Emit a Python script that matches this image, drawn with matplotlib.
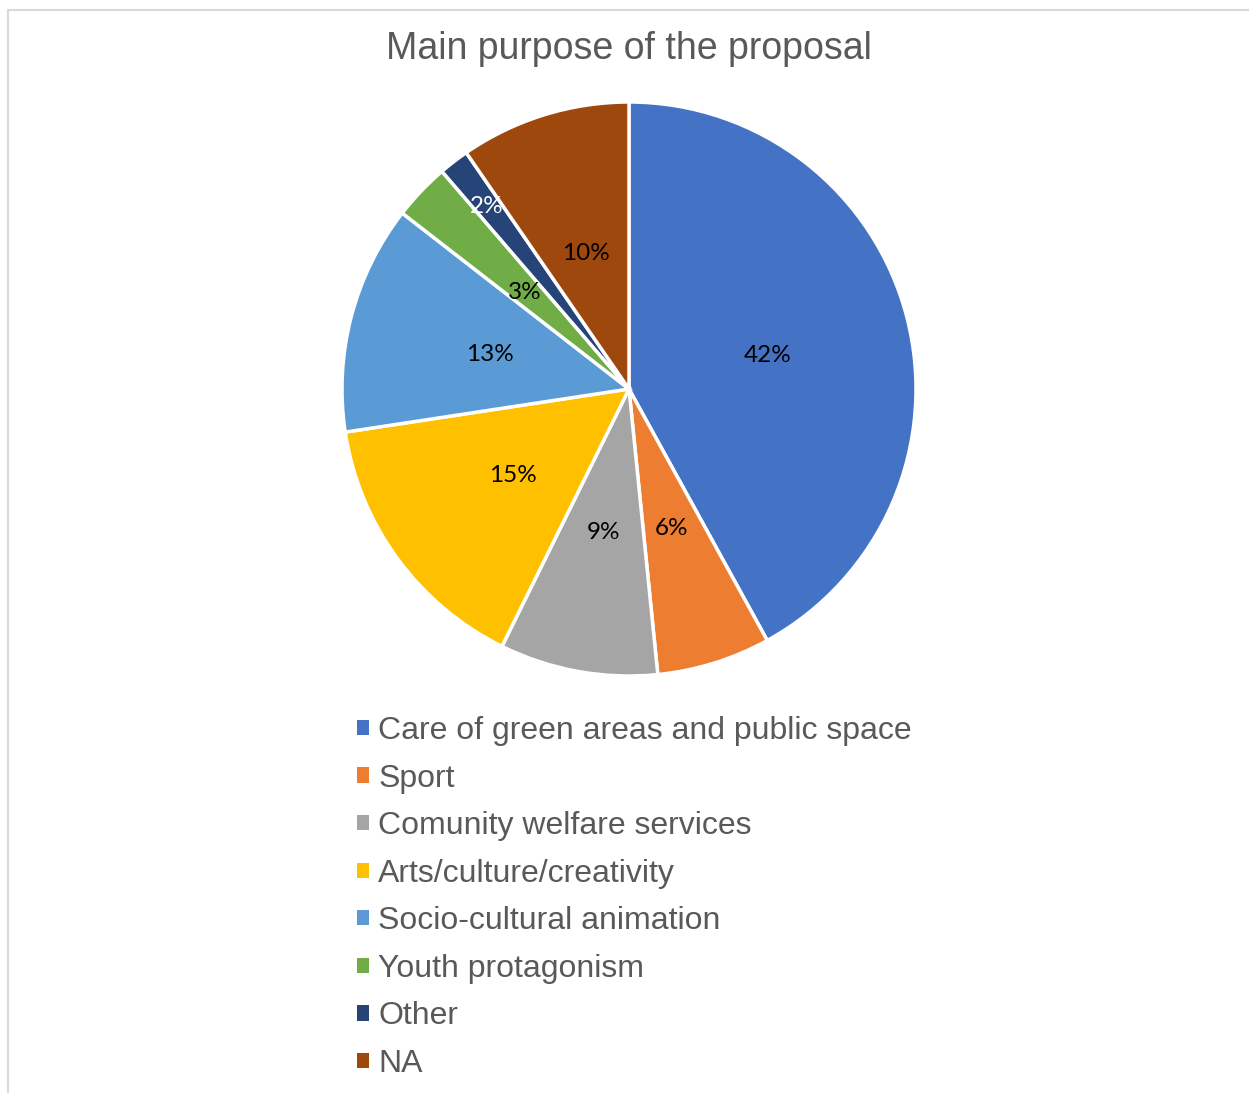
import numpy as np
import matplotlib
matplotlib.use("Agg")
import matplotlib.pyplot as plt
from matplotlib.lines import Line2D

# proposal purposes and their share (%)
categories = [
    "Care of green areas and public space",
    "Sport",
    "Comunity welfare services",
    "Arts/culture/creativity",
    "Socio-cultural animation",
    "Youth protagonism",
    "Other",
    "NA",
]
shares = [42.0, 6.4, 8.9, 15.3, 12.9, 3.2, 1.7, 9.6]
colors = ["#4472C4", "#ED7D31", "#A5A5A5", "#FFC000",
          "#5B9BD5", "#70AD47", "#264478", "#9E480E"]

W, H = 1249, 1093
fig = plt.figure(figsize=(W / 100, H / 100), dpi=100)
fig.patch.set_facecolor("white")

# chart area border (only left and top show)
border = "#D9D9D9"
fig.add_artist(Line2D([7.5 / W, 7.5 / W], [0, 1 - 10 / H], color=border, lw=1.5))
fig.add_artist(Line2D([7.5 / W, 1], [1 - 10 / H, 1 - 10 / H], color=border, lw=1.5))

fig.text(629 / W, 1 - 49 / H, "Main purpose of the proposal",
         ha="center", va="center", fontsize=27, color="#595959",
         family="Liberation Sans")

cx, cy, r = 629, 389, 287
ax = fig.add_axes([(cx - r) / W, (H - cy - r) / H, 2 * r / W, 2 * r / H])
wedges, texts, autotexts = ax.pie(
    shares, colors=colors, startangle=90, counterclock=False,
    autopct=lambda p: f"{p:.0f}%", pctdistance=0.5,
    wedgeprops=dict(edgecolor="white", linewidth=2.5),
    textprops=dict(fontsize=17.5, family="Lato", color="black"),
)
for t in autotexts:
    t.set_va("center_baseline")
ax.set_xlim(-1, 1)
ax.set_ylim(-1, 1)
ax.set_aspect("equal")
ax.axis("off")

# the thin "Other" slice gets its label pushed outward, in white
w = wedges[6]
mid = np.deg2rad((w.theta1 + w.theta2) / 2)
autotexts[6].set_position((0.81 * np.cos(mid), 0.81 * np.sin(mid)))
autotexts[6].set_color("white")

leg = fig.legend(
    wedges, categories, loc="upper left",
    bbox_to_anchor=(357 / W, 1 - 716 / H),
    frameon=False, borderpad=0, borderaxespad=0,
    handlelength=0.36, handleheight=0.36, handletextpad=0.3,
    labelspacing=0.55, prop=dict(family="Liberation Sans", size=23),
)
for t in leg.get_texts():
    t.set_color("#595959")
for h in leg.legend_handles:
    h.set_edgecolor("none")

fig.savefig("out.png", dpi=100, facecolor="white")
